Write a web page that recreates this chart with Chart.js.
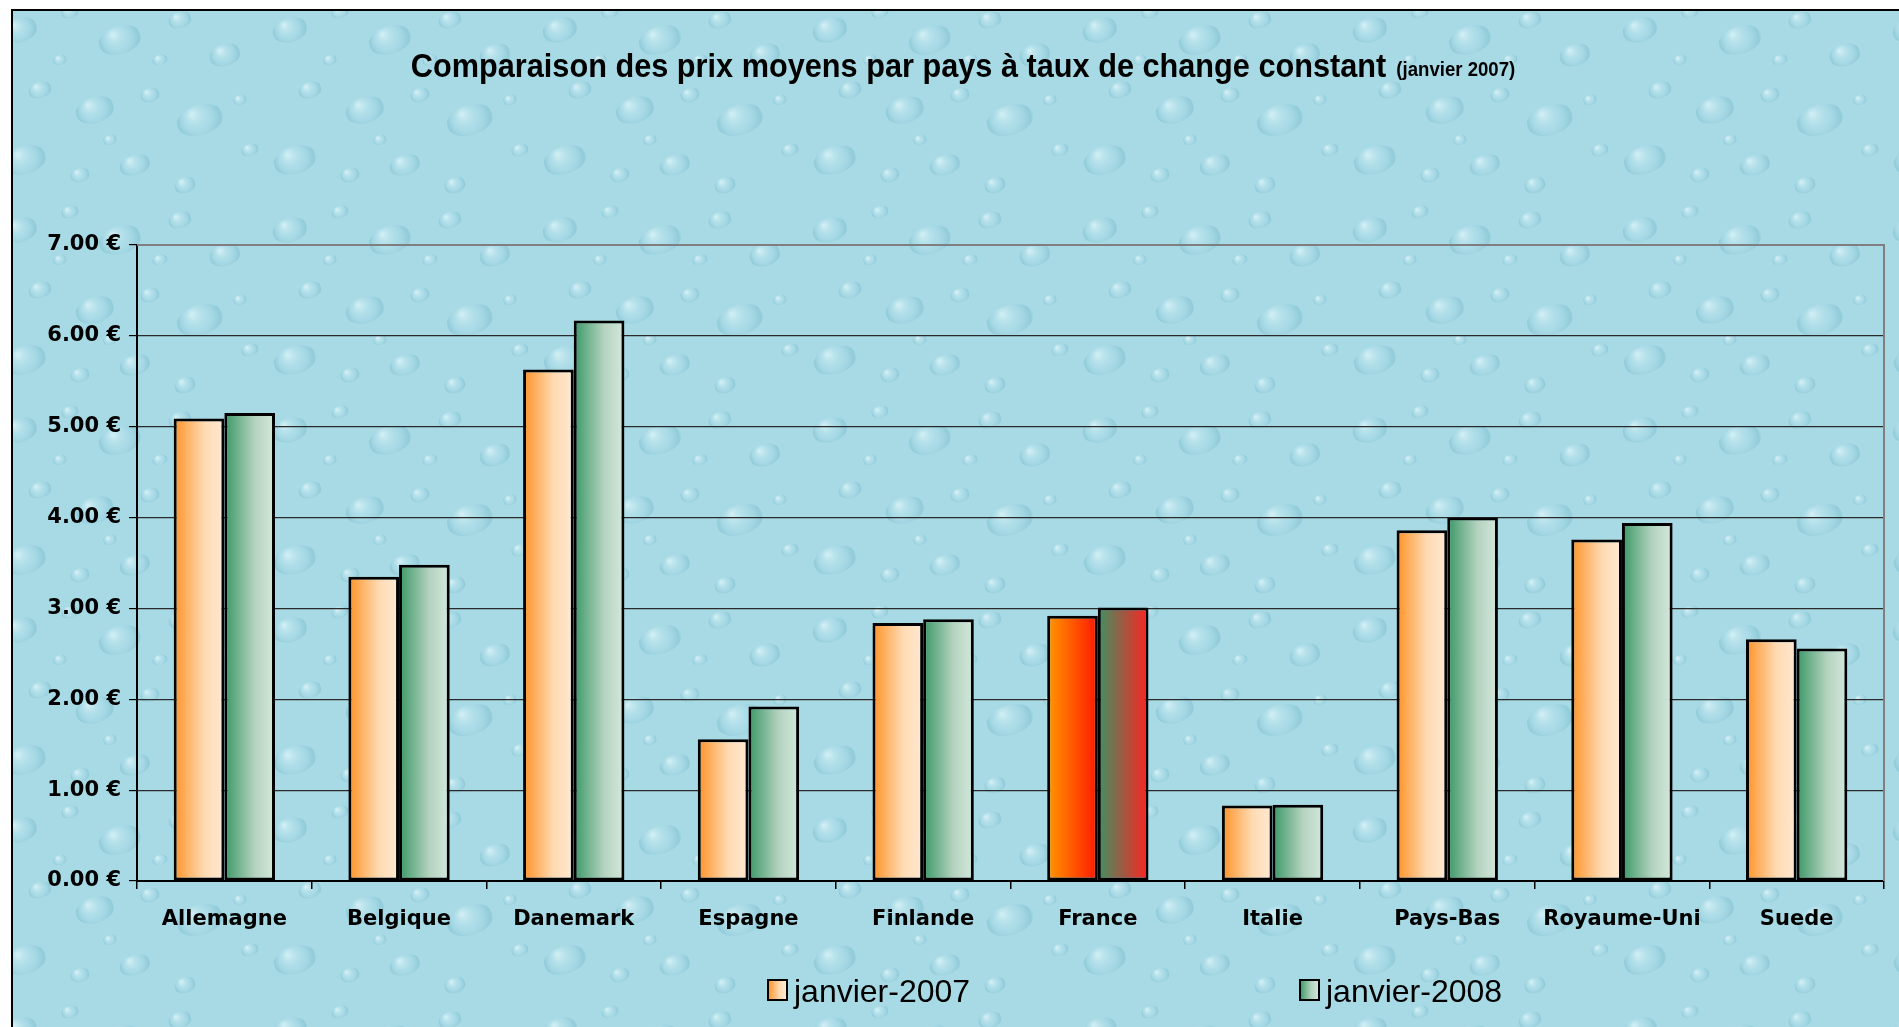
<!DOCTYPE html>
<html>
<head>
<meta charset="utf-8">
<script src="https://cdn.jsdelivr.net/npm/chart.js@4.4.1/dist/chart.umd.min.js"></script>
<style>
  html, body { margin: 0; padding: 0; background: #fff; }
  canvas { display: block; }
</style>
</head>
<body>
<canvas id="graficoPrix" width="1899" height="1027"></canvas>
<script>
const pays = ["Allemagne", "Belgique", "Danemark", "Espagne", "Finlande", "France", "Italie", "Pays-Bas", "Royaume-Uni", "Suede"];
const prix2007 = [5.09, 3.35, 5.63, 1.56, 2.84, 2.92, 0.83, 3.86, 3.76, 2.66];
const prix2008 = [5.15, 3.48, 6.17, 1.92, 2.88, 3.01, 0.84, 4.00, 3.94, 2.56];
const legendes = ["janvier-2007", "janvier-2008"];
const titre = "Comparaison des prix moyens par pays à taux de change constant";
const sousTitre = "(janvier 2007)";
const paysMisEnAvant = "France";
const yMin = 0;
const yMax = 7;
const yPas = 1;

const L = 1899;
const H = 1027;

// couleurs des barres (dégradés horizontaux)
const degOrange = [[0, "#ff9226"], [0.6, "#ffdab2"], [1, "#ffe9d3"]];
const degVert = [[0, "#3a9866"], [0.6, "#b4d3bf"], [1, "#d5e8dc"]];
const degOrangeFr = [[0, "#ff9800"], [1, "#ff1800"]];
const degVertFr = [[0, "#3e9262"], [1, "#ff2222"]];

// petite texture "gouttes d'eau" pour le fond
const gouttes = [
  [20, 30, 18, 12], [70, 12, 9, 6], [120, 40, 22, 14], [180, 20, 12, 8], [225, 55, 16, 11],
  [40, 90, 12, 8], [95, 110, 20, 13], [150, 95, 10, 7], [200, 120, 24, 15], [250, 150, 9, 6],
  [25, 160, 22, 14], [80, 175, 10, 7], [135, 165, 16, 10], [185, 185, 11, 8], [60, 60, 7, 5],
  [160, 60, 8, 5], [110, 140, 7, 5], [240, 100, 7, 5]
];

function creerMotif(ctx) {
  const tuile = document.createElement("canvas");
  tuile.width = 270;
  tuile.height = 200;
  const t = tuile.getContext("2d");
  t.fillStyle = "#a8dae5";
  t.fillRect(0, 0, 270, 200);
  gouttes.forEach(([x, y, rx, ry]) => {
    const g = t.createRadialGradient(x - rx * 0.35, y - ry * 0.4, 1, x, y, rx);
    g.addColorStop(0, "rgba(225,246,250,0.7)");
    g.addColorStop(0.55, "rgba(170,220,232,0.3)");
    g.addColorStop(0.9, "rgba(110,180,200,0.4)");
    g.addColorStop(1, "rgba(110,180,200,0)");
    t.fillStyle = g;
    t.beginPath();
    t.ellipse(x, y, rx, ry, -0.3, 0, Math.PI * 2);
    t.fill();
  });
  return ctx.createPattern(tuile, "repeat");
}

function degrade(context, arrets) {
  const chart = context.chart;
  const zone = chart.chartArea;
  const echelleX = chart.scales.x;
  if (!zone || !echelleX || context.dataIndex === undefined) return arrets[0][1];
  const largeurCat = (zone.right - zone.left) / pays.length;
  const largeurBarre = largeurCat * 0.58 / 2;
  const centre = echelleX.getPixelForValue(context.dataIndex);
  const gauche = context.datasetIndex === 0 ? centre - largeurBarre : centre;
  const g = chart.ctx.createLinearGradient(gauche, 0, gauche + largeurBarre, 0);
  arrets.forEach(([p, c]) => g.addColorStop(p, c));
  return g;
}

function couleurBarre(serie) {
  return (context) => {
    const fr = pays[context.dataIndex] === paysMisEnAvant;
    if (serie === 0) return degrade(context, fr ? degOrangeFr : degOrange);
    return degrade(context, fr ? degVertFr : degVert);
  };
}

let motif = null;

const pluginFond = {
  id: "fond",
  beforeDraw(chart) {
    const c = chart.ctx;
    if (!motif) motif = creerMotif(c);
    c.save();
    c.fillStyle = "#ffffff";
    c.fillRect(0, 0, L, H);
    c.fillStyle = motif;
    c.fillRect(12, 10, L - 12, H - 10);
    c.strokeStyle = "#000";
    c.lineWidth = 2;
    c.beginPath();
    c.moveTo(12, H);
    c.lineTo(12, 10);
    c.lineTo(L, 10);
    c.stroke();
    c.restore();
  }
};

const pluginTitre = {
  id: "titre",
  afterDraw(chart) {
    const c = chart.ctx;
    c.save();
    c.fillStyle = "#000";
    c.textBaseline = "alphabetic";
    c.textAlign = "left";
    // titre un peu étroit et haut, comme dans l'original
    const sx = 0.93;
    c.font = "bold 33px 'Liberation Sans', Arial, sans-serif";
    const l1 = c.measureText(titre).width * sx;
    c.font = "bold 20px 'Liberation Sans', Arial, sans-serif";
    const l2 = c.measureText(sousTitre).width * sx;
    const ecart = 10;
    const x0 = 963 - (l1 + ecart + l2) / 2;
    c.save();
    c.translate(x0, 77);
    c.scale(sx, 1);
    c.font = "bold 33px 'Liberation Sans', Arial, sans-serif";
    c.fillText(titre, 0, 0);
    c.font = "bold 20px 'Liberation Sans', Arial, sans-serif";
    c.fillText(sousTitre, (l1 + ecart) / sx, -1);
    c.restore();

    // cadre gris de la zone de traçage (haut et droite)
    const z = chart.chartArea;
    c.strokeStyle = "#7f7f7f";
    c.lineWidth = 2;
    c.beginPath();
    c.moveTo(z.left, z.top);
    c.lineTo(z.right, z.top);
    c.lineTo(z.right, z.bottom);
    c.stroke();

    // légende
    const positions = [768, 1300];
    const degs = [degOrange, degVert];
    c.font = "32px 'Liberation Sans', Arial, sans-serif";
    legendes.forEach((txt, i) => {
      const x = positions[i];
      const g = c.createLinearGradient(x, 0, x + 19, 0);
      degs[i].forEach(([p, col]) => g.addColorStop(p, col));
      c.fillStyle = g;
      c.fillRect(x, 980, 19, 20);
      c.strokeStyle = "#000";
      c.lineWidth = 2;
      c.strokeRect(x, 980, 19, 20);
      c.fillStyle = "#000";
      c.fillText(txt, x + 26, 1002);
    });
    c.restore();
  }
};

const ctx = document.getElementById("graficoPrix").getContext("2d");

const grafico = new Chart(ctx, {
  type: "bar",
  data: {
    labels: pays,
    datasets: [
      {
        label: legendes[0],
        data: prix2007,
        backgroundColor: couleurBarre(0),
        borderColor: "#000",
        borderWidth: 3,
        borderSkipped: false
      },
      {
        label: legendes[1],
        data: prix2008,
        backgroundColor: couleurBarre(1),
        borderColor: "#000",
        borderWidth: 3,
        borderSkipped: false
      }
    ]
  },
  options: {
    responsive: false,
    animation: false,
    datasets: {
      bar: {
        categoryPercentage: 0.58,
        barPercentage: 1.0
      }
    },
    layout: {
      padding: { left: 0, top: 245, right: 15, bottom: 86 }
    },
    plugins: {
      legend: { display: false },
      title: { display: false },
      tooltip: { enabled: false }
    },
    scales: {
      x: {
        afterFit(scale) { scale.height = 60; },
        grid: {
          display: true,
          drawOnChartArea: false,
          drawTicks: true,
          tickLength: 8,
          color: "#000",
          lineWidth: 1.5
        },
        border: { display: true, color: "#000", width: 2 },
        ticks: {
          color: "#000",
          padding: 18,
          font: { family: "'DejaVu Sans', sans-serif", weight: "bold", size: 21 }
        }
      },
      y: {
        min: yMin,
        max: yMax,
        afterFit(scale) { scale.width = 137; },
        grid: {
          color: (c) => (c.tick && c.tick.value === yMax ? "#7f7f7f" : "#2a2a2a"),
          lineWidth: 1.2,
          drawTicks: true,
          tickLength: 8,
          tickColor: "#000"
        },
        border: { display: true, color: "#000", width: 2 },
        ticks: {
          stepSize: yPas,
          color: "#000",
          padding: 8,
          font: { family: "'DejaVu Sans', sans-serif", weight: "bold", size: 21 },
          callback: (v) => v.toFixed(2) + " €"
        }
      }
    }
  },
  plugins: [pluginFond, pluginTitre]
});
</script>
</body>
</html>
